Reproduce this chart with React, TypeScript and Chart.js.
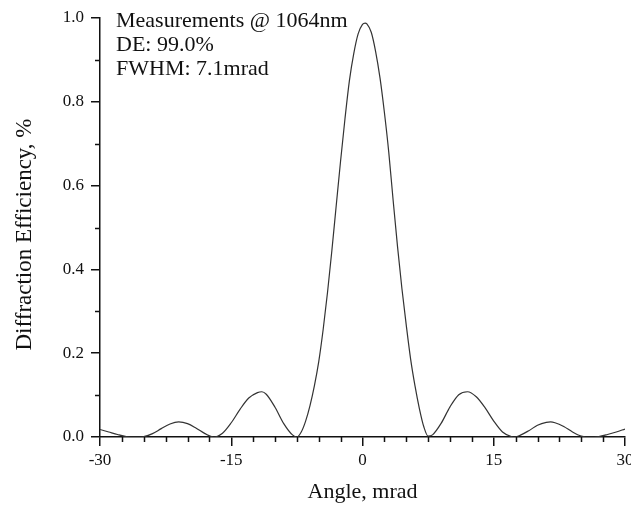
import React, { useEffect, useRef } from "react";
import { Chart, registerables } from "chart.js";

Chart.register(...registerables);

const angles: number[] = [
  -30, -29, -28, -27, -26.5, -26, -25.5, -25, -24, -23, -22, -21, -20, -19, -18, -17,
  -16, -15, -14, -13, -12, -11.5, -11, -10, -9, -8, -7.5, -7, -6.5, -6, -5.5, -5, -4.5,
  -4, -3.5, -3, -2.5, -2, -1.5, -1, -0.5, 0, 0.3, 0.5, 1, 1.5, 2, 2.5, 3, 3.5, 4, 4.5,
  5, 5.5, 6, 6.5, 7, 7.5, 8, 9, 10, 11, 12, 13, 14, 15, 16, 17, 17.3, 18, 19, 20, 21,
  21.5, 22, 23, 24, 25, 25.5, 26, 26.5, 27, 28, 29, 30,
];

const efficiency: number[] = [
  0.018, 0.012, 0.006, 0.001, 0.0, 0.0, 0.0, 0.001, 0.008, 0.02, 0.031, 0.036, 0.032, 0.021, 0.008, 0.0,
  0.009, 0.034, 0.066, 0.093, 0.106, 0.108, 0.102, 0.071, 0.032, 0.005, 0.0, 0.012, 0.038, 0.075, 0.122, 0.18, 0.256,
  0.345, 0.445, 0.553, 0.66, 0.76, 0.85, 0.915, 0.962, 0.985, 0.988, 0.986, 0.966, 0.92, 0.857, 0.775, 0.68, 0.565, 0.455, 0.355,
  0.267, 0.186, 0.122, 0.068, 0.025, 0.002, 0.005, 0.033, 0.072, 0.101, 0.108, 0.096, 0.07, 0.038, 0.012, 0.001, 0.0, 0.004, 0.015, 0.028, 0.035,
  0.036, 0.034, 0.025, 0.012, 0.002, 0.0, 0.0, 0.0, 0.001, 0.006, 0.012, 0.019,
];

const xMinorTicks: number[] = [-27.5, -25, -22.5, -20, -17.5, -12.5, -10, -7.5, -5, -2.5, 2.5, 5, 7.5, 10, 12.5, 17.5, 20, 22.5, 25, 27.5];
const yMinorTicks: number[] = [0.1, 0.3, 0.5, 0.7, 0.9];

const annotationLines: string[] = ["Measurements @ 1064nm", "DE: 99.0%", "FWHM: 7.1mrad"];
const yTitle = "Diffraction Efficiency, %";
const xTitle = "Angle, mrad";

const FONT = "'Liberation Serif', 'Times New Roman', serif";

export default function App() {
  const ref = useRef<HTMLCanvasElement | null>(null);

  useEffect(() => {
    if (!ref.current) return;

    const decorPlugin = {
      id: "decor",
      afterDraw(chart: any) {
        const { ctx, chartArea, scales } = chart;
        ctx.save();
        ctx.strokeStyle = "#111";
        ctx.lineWidth = 1.5;
        ctx.beginPath();
        for (const v of xMinorTicks) {
          const px = Math.round(scales.x.getPixelForValue(v)) + 0.5;
          ctx.moveTo(px, chartArea.bottom);
          ctx.lineTo(px, chartArea.bottom + 5);
        }
        for (const v of yMinorTicks) {
          const py = Math.round(scales.y.getPixelForValue(v)) + 0.5;
          ctx.moveTo(chartArea.left - 5, py);
          ctx.lineTo(chartArea.left, py);
        }
        ctx.stroke();

        ctx.fillStyle = "#111";
        ctx.font = `22px ${FONT}`;
        ctx.textAlign = "left";
        ctx.textBaseline = "alphabetic";
        annotationLines.forEach((t, i) => {
          ctx.fillText(t, chartArea.left + 16, chartArea.top + 9 + i * 24);
        });

        // y axis title
        ctx.font = `23px ${FONT}`;
        ctx.textAlign = "center";
        ctx.textBaseline = "middle";
        ctx.translate(chartArea.left - 75, (chartArea.top + chartArea.bottom) / 2 + 7);
        ctx.rotate(-Math.PI / 2);
        ctx.fillText(yTitle, 0, 0);
        ctx.restore();
      },
    };

    const chart = new Chart(ref.current, {
      type: "line",
      data: {
        datasets: [
          {
            data: angles.map((a, i) => ({ x: a, y: efficiency[i] })),
            borderColor: "#333",
            borderWidth: 1.2,
            pointRadius: 0,
            fill: false,
            cubicInterpolationMode: "monotone",
          },
        ],
      },
      options: {
        animation: false,
        responsive: false,
        maintainAspectRatio: false,
        devicePixelRatio: 1,
        layout: { padding: { left: 0, right: 55, top: 18, bottom: 0 } },
        plugins: { legend: { display: false }, tooltip: { enabled: false } },
        scales: {
          x: {
            type: "linear",
            min: -30,
            max: 30,
            afterFit: (scale: any) => {
              scale.height = 71;
            },
            border: { display: true, color: "#111", width: 1.5 },
            grid: { drawOnChartArea: false, drawTicks: true, tickLength: 9, color: "#111", lineWidth: 1.5 },
            ticks: {
              stepSize: 15,
              padding: 4,
              color: "#111",
              font: { family: FONT, size: 17 },
              maxRotation: 0,
              callback: (v: any) => String(v),
            },
            title: {
              display: true,
              text: xTitle,
              color: "#111",
              font: { family: FONT, size: 22 },
              padding: { top: 0, bottom: 3 },
            },
          },
          y: {
            min: 0,
            max: 1,
            afterFit: (scale: any) => {
              scale.width = 100;
            },
            border: { display: true, color: "#111", width: 1.5 },
            grid: { drawOnChartArea: false, drawTicks: true, tickLength: 9, color: "#111", lineWidth: 1.5 },
            ticks: {
              stepSize: 0.2,
              padding: 7,
              color: "#111",
              font: { family: FONT, size: 17 },
              callback: (v: any) => Number(v).toFixed(1),
            },
            title: { display: false },
          },
        },
      },
      plugins: [decorPlugin],
    } as any);

    return () => chart.destroy();
  }, []);

  return (
    <div style={{ position: "absolute", left: 0, top: 0, width: 631, height: 508, overflow: "hidden", background: "#fff" }}>
      <canvas ref={ref} width={680} height={508} style={{ width: 680, height: 508, display: "block" }} />
    </div>
  );
}
